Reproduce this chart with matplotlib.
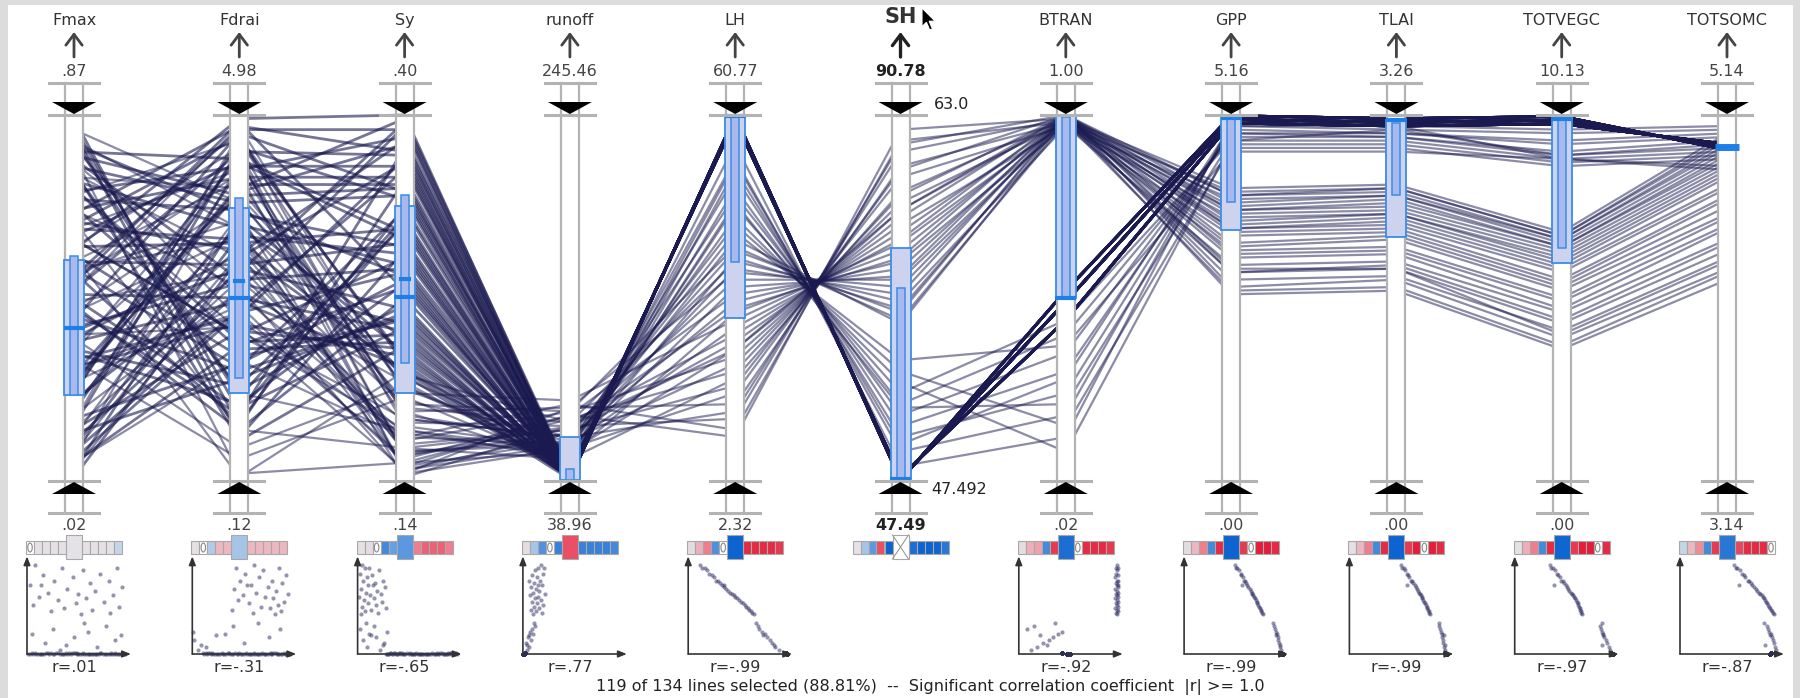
import numpy as np
import matplotlib.pyplot as plt
from matplotlib.patches import Rectangle, Polygon, Ellipse
from matplotlib.colors import LinearSegmentedColormap, Normalize

plt.rcParams['font.family'] = ['DejaVu Sans']

names = ["Fmax", "Fdrai", "Sy", "runoff", "LH", "SH", "BTRAN", "GPP", "TLAI", "TOTVEGC", "TOTSOMC"]
axis_max = [0.87, 4.98, 0.40, 245.46, 60.77, 90.78, 1.00, 5.16, 3.26, 10.13, 5.14]
axis_min = [0.02, 0.12, 0.14, 38.96, 2.32, 47.49, 0.02, 0.00, 0.00, 0.00, 3.14]
sh_brush = ("63.0", "47.492")
r_values = [0.01, -0.31, -0.65, 0.77, -0.99, None, -0.92, -0.99, -0.99, -0.97, -0.87]
footer = "119 of 134 lines selected (88.81%)  --  Significant correlation coefficient  |r| >= 1.0"

# line values, percent of each axis (0 = bottom, 100 = top)
# Fmax, Fdrai, Sy, runoff, LH, SH, BTRAN, GPP, TLAI, TOTVEGC, TOTSOMC
varying_hi = [
    [8, 62, 4, 18, 12, 96, 99, 51, 52, 36, 55],
    [91, 44, 12, 21, 14, 93, 98, 52, 53, 37, 57],
    [35, 88, 7, 15, 17, 92, 100, 53, 55, 39, 58],
    [57, 71, 22, 12, 19, 90, 99, 55, 56, 41, 61],
    [74, 53, 2, 20, 21, 86, 98, 57, 58, 43, 63],
    [16, 95, 15, 9, 24, 85, 100, 57, 59, 44, 65],
    [46, 67, 9, 14, 26, 83, 97, 59, 60, 46, 66],
    [83, 80, 26, 6, 28, 79, 99, 61, 62, 47, 69],
    [27, 48, 5, 17, 30, 78, 100, 62, 63, 49, 70],
    [64, 91, 18, 11, 32, 76, 98, 63, 64, 50, 72],
    [3, 59, 11, 19, 34, 74, 99, 64, 66, 52, 73],
    [96, 76, 28, 8, 36, 72, 100, 65, 67, 53, 75],
    [40, 42, 3, 13, 38, 70, 97, 67, 68, 54, 77],
    [69, 85, 20, 16, 40, 68, 99, 68, 69, 55, 78],
    [21, 64, 8, 10, 42, 66, 100, 69, 70, 57, 80],
    [52, 97, 24, 22, 44, 65, 98, 69, 71, 58, 81],
    [87, 51, 13, 7, 46, 63, 99, 70, 72, 59, 83],
    [12, 73, 1, 15, 47, 61, 100, 71, 73, 60, 84],
    [60, 82, 17, 12, 49, 60, 97, 72, 73, 61, 85],
    [31, 46, 6, 18, 51, 58, 99, 73, 74, 62, 86],
    [78, 93, 25, 9, 53, 56, 100, 74, 75, 63, 87],
    [49, 57, 10, 14, 55, 55, 98, 74, 76, 64, 88],
    [6, 87, 19, 20, 57, 53, 99, 75, 77, 64, 89],
    [93, 69, 4, 11, 58, 51, 100, 76, 78, 65, 90],
    [37, 78, 29, 16, 60, 49, 97, 77, 78, 66, 91],
    [66, 40, 14, 8, 61, 47, 99, 78, 79, 66, 92],
    [24, 90, 7, 13, 63, 46, 100, 78, 80, 67, 93],
    [84, 61, 21, 19, 64, 44, 98, 79, 80, 67, 94],
    [55, 84, 3, 10, 66, 43, 99, 80, 81, 68, 95],
    [14, 55, 16, 15, 36, 74, 100, 58, 58, 40, 60],
]
varying_lo = [
    [33, 6, 23, 4, 92, 4, 12, 98, 97, 96, 97],
    [71, 14, 9, 6, 88, 8, 18, 97, 96, 95, 96],
    [18, 52, 27, 3, 85, 12, 24, 96, 95, 93, 95],
    [89, 2, 5, 8, 83, 15, 30, 95, 95, 92, 94],
    [47, 77, 19, 5, 80, 18, 35, 95, 94, 90, 93],
    [5, 33, 12, 10, 78, 21, 40, 94, 94, 89, 92],
    [62, 1, 30, 7, 75, 24, 44, 93, 93, 88, 90],
    [26, 89, 2, 9, 72, 27, 8, 92, 92, 87, 89],
    [80, 41, 17, 12, 70, 30, 15, 91, 91, 86, 88],
    [39, 9, 26, 4, 87, 10, 28, 97, 97, 88, 86],
    [58, 66, 8, 11, 68, 33, 37, 90, 90, 88, 85],
    [95, 24, 14, 6, 76, 20, 21, 93, 96, 89, 91],
]
# the dense bundle: spread over the three parameters, nearly identical outputs
heavy_fmax = [3, 47, 88, 15, 62, 29, 95, 71, 8, 54, 36, 82, 19, 66, 41, 99, 24, 58, 77, 11,
              50, 90, 33, 69, 5, 44, 85, 27, 60, 13, 74, 38, 93, 21, 56, 80, 1, 48, 67, 31,
              86, 17, 63, 42, 97, 9, 52, 75, 26, 84, 39, 6, 70, 57, 92, 22, 45, 79, 14, 64,
              35, 89, 51, 73]
heavy_fdrai = [72, 18, 55, 91, 34, 80, 12, 63, 47, 98, 26, 69, 85, 40, 58, 15, 93, 31, 74, 52,
               20, 88, 45, 66, 37, 95, 11, 79, 59, 28, 83, 49, 23, 70, 96, 38, 61, 14, 87, 43,
               76, 32, 99, 54, 19, 67, 90, 36, 81, 25, 62, 46, 94, 16, 73, 57, 30, 86, 41, 65,
               21, 78, 50, 97]
heavy_sy = [35, 91, 58, 77, 44, 99, 63, 30, 85, 52, 70, 39, 94, 61, 47, 82, 33, 74, 56, 97,
            42, 68, 88, 29, 53, 79, 37, 92, 65, 46, 83, 31, 72, 59, 96, 40, 87, 50, 66, 34,
            78, 55, 100, 43, 71, 62, 89, 38, 81, 48, 93, 57, 32, 75, 64, 98, 45, 86, 36, 69,
            54, 80, 41, 90]
heavy_kind = [0, 1, 2, 0, 0, 1, 2, 0, 1, 0, 2, 0, 1, 0, 0, 2, 1, 0, 2, 0,
              1, 0, 0, 2, 1, 0, 1, 2, 0, 0, 1, 0, 2, 1, 0, 0, 2, 1, 0, 1,
              0, 2, 0, 1, 0, 0, 2, 1, 0, 2, 1, 0, 0, 1, 2, 0, 1, 0, 2, 0,
              0, 1, 2, 0]
# runoff, LH, SH, BTRAN, GPP, TLAI, TOTVEGC, TOTSOMC
heavy_tail = [
    [1.0, 99.5, 0.5, 49, 98.8, 98.0, 98.6, 91.2],
    [2.0, 98.6, 1.2, 44, 97.8, 97.0, 97.6, 92.0],
    [0.5, 99.8, 0.2, 52, 99.8, 99.0, 99.6, 90.5],
]

# boxes drawn on every axis (percent of axis)
box_lo = [23.5, 24.0, 24.0, 0.3, 44.5, 0.3, 50.0, 68.6, 66.7, 59.6, None]
box_hi = [60.4, 74.6, 75.1, 12.0, 100, 63.7, 100, 100, 98.6, 99.5, None]
inner_lo = [23.5, 28.1, 32.2, 0.3, 59.8, 0.8, 50.0, 76.2, 78.1, 63.7, None]
inner_hi = [61.5, 77.3, 78.1, 3.3, 99.5, 52.7, 99.5, 99.2, 97.8, 98.6, None]
median = [41.8, 50.0, 50.3, None, 99.6, 0.6, 50.0, 99.3, 98.6, 99.0, 91.2]
mean_mark = [None, 54.6, 55.2, None, None, None, None, None, None, None, None]

# correlation strip under each axis (None = the axis itself)
corr_rows = [
    [None, .02, .02, .02, .02, .01, .02, .02, .02, .02, -.15],
    [.03, None, -.25, .3, .3, -.31, .3, .3, .3, .3, .3],
    [.03, .05, None, -.75, -.6, -.65, .6, .7, .7, .7, .6],
    [.05, -.3, -.7, None, -.8, .77, -.8, -.8, -.8, -.8, -.75],
    [.05, .35, .6, -.7, None, -.99, .9, .9, .9, .9, .85],
    [.01, -.31, -.65, .77, -.99, None, -.92, -.99, -.99, -.97, -.87],
    [.05, .35, .45, -.75, .85, -.92, None, .9, .9, .9, .85],
    [.05, .3, .6, -.75, .9, -.99, .85, None, .95, .95, .9],
    [.03, .3, .6, -.75, .9, -.99, .85, .95, None, .95, .9],
    [.03, .35, .6, -.75, .9, -.97, .85, .95, .95, None, .9],
    [-.15, .3, .55, -.75, .85, -.87, .8, .9, .9, .9, None],
]

# ---- layout (pixels of the 1800x698 picture) ----
W, H = 1800, 698
AX0, STEP = 74, 165.3
TOP, BOT = 115, 481


def xi(px):
    return (px - AX0) / STEP


def yn(py):
    return (BOT - py) / (BOT - TOP)


def dx(p):
    return p / STEP


def fmt(v):
    s = f"{v:.2f}"
    return s[1:] if s.startswith("0.") else s


def rfmt(r):
    return "r=" + ("-" if r < 0 else "") + f"{abs(r):.2f}"[1:]


n_var = len(varying_hi) + len(varying_lo)
rows = varying_hi + varying_lo
rows += [[f, d, s] + heavy_tail[k] for f, d, s, k in zip(heavy_fmax, heavy_fdrai, heavy_sy, heavy_kind)]
data = np.array(rows, dtype=float) / 100.0

fig = plt.figure(figsize=(18, 6.98), dpi=100)
ax = fig.add_axes([0, 0, 1, 1])
ax.set_xlim(xi(0), xi(W))
ax.set_ylim(yn(H), yn(0))
ax.axis('off')

# gray window frame
for rect in [(0, 1 - 5 / H, 1, 5 / H), (0, 0, 8 / W, 1), (1 - 7 / W, 0, 7 / W, 1)]:
    fig.patches.append(Rectangle(rect[:2], rect[2], rect[3], transform=fig.transFigure,
                                 facecolor='#dcdcdc', edgecolor='none', zorder=0))

n_axes = len(names)
xs = np.arange(n_axes)
for k, row in enumerate(data):
    heavy = k >= n_var
    ax.plot(xs, row, color='#1a1a50', alpha=0.6 if heavy else 0.5, lw=2.0 if heavy else 1.6,
            zorder=2, solid_capstyle='butt')

gray = '#b3b3b3'
blue_edge = '#3a8de8'
hw, cap, tri = dx(9), dx(25), dx(22)
for i in range(n_axes):
    ax.add_patch(Rectangle((i - hw, 0), 2 * hw, 1, facecolor='white', edgecolor='none', zorder=3))
    for s in (-1, 1):
        ax.plot([i + s * hw] * 2, [yn(83), yn(513)], color=gray, lw=1.6, zorder=4)
    for py in (83, 115, 481, 513):
        ax.plot([i - cap, i + cap], [yn(py)] * 2, color=gray, lw=2.2, zorder=6)
    ax.add_patch(Polygon([(i - tri, yn(102)), (i + tri, yn(102)), (i, yn(114))],
                         closed=True, facecolor='black', edgecolor='none', zorder=7))
    ax.add_patch(Polygon([(i - tri, yn(494)), (i + tri, yn(494)), (i, yn(482))],
                         closed=True, facecolor='black', edgecolor='none', zorder=7))

    # boxes
    if box_lo[i] is not None:
        lo, hi = box_lo[i] / 100, box_hi[i] / 100
        ax.add_patch(Rectangle((i - dx(10), lo), dx(20), hi - lo, facecolor='#cdd3ef',
                               edgecolor=blue_edge, lw=1.3, zorder=5))
        lo, hi = inner_lo[i] / 100, inner_hi[i] / 100
        ax.add_patch(Rectangle((i - dx(4), lo), dx(8), hi - lo, facecolor='#a9b9ee',
                               edgecolor=blue_edge, lw=1.1, zorder=5))
    if mean_mark[i] is not None:
        ax.plot([i - dx(4), i + dx(4)], [mean_mark[i] / 100] * 2, color='#1f7fe8', lw=3, zorder=5)
    if median[i] is not None:
        w = 12 if i == n_axes - 1 else 10.5
        ax.plot([i - dx(w), i + dx(w)], [median[i] / 100] * 2, color='#1f7fe8',
                lw=5 if i == n_axes - 1 else 3, zorder=5, solid_capstyle='butt')

    # titles, arrows, range labels
    sel = names[i] == "SH"
    ax.text(i, yn(17 if sel else 20), names[i], ha='center', va='center',
            fontsize=15 if sel else 11.5, fontweight='bold' if sel else 'normal', color='#333333')
    ax.annotate('', xy=(i, yn(32)), xytext=(i, yn(57)),
                arrowprops=dict(arrowstyle='->,head_length=0.6,head_width=0.45', lw=2.4 if sel else 2.0,
                                color='#222222' if sel else '#444444', shrinkA=0, shrinkB=0,
                                mutation_scale=13))
    ax.text(i, yn(71), fmt(axis_max[i]), ha='center', va='center', fontsize=11.5,
            color='#222222' if sel else '#444444', fontweight='bold' if sel else 'normal')
    ax.text(i, yn(525), fmt(axis_min[i]), ha='center', va='center', fontsize=11.5,
            color='#222222' if sel else '#444444', fontweight='bold' if sel else 'normal')

sh = names.index("SH")
ax.text(sh + dx(33), yn(104), sh_brush[0], ha='left', va='center', fontsize=11.5, color='#222222')
ax.text(sh + dx(31), yn(490), sh_brush[1], ha='left', va='center', fontsize=11.5, color='#222222')

# mouse pointer next to the selected axis
cur = [(0, 0), (0, 17), (4, 13), (7, 20), (9.5, 19), (6.5, 12), (12, 12)]
ax.add_patch(Polygon([(xi(922 + 1.1 * u), yn(8 + 1.1 * v)) for u, v in cur], closed=True,
                     facecolor='black', edgecolor='white', lw=0.8, zorder=8))

# correlation strips
cmap = LinearSegmentedColormap.from_list('corr', ['#0b62d0', '#7fb0e6', '#e4e4e8', '#f19aa6', '#e2102f'])
norm = Normalize(-1, 1)
widths = [8] * 5 + [16] + [8] * 5
for i in range(n_axes):
    cx = AX0 + STEP * i
    left = cx - 48
    for j, v in enumerate(corr_rows[i]):
        w = widths[j]
        big = j == 5
        top, bot = (535, 559) if big else (541, 554)
        face = 'white' if v is None else cmap(norm(v))
        ax.add_patch(Rectangle((xi(left), yn(bot)), dx(w), yn(top) - yn(bot), facecolor=face,
                               edgecolor='#a8a8a8', lw=0.8, zorder=5 if big else 4))
        if v is None:
            ccx, ccy = xi(left + w / 2), yn((top + bot) / 2)
            if big:
                ax.plot([xi(left), xi(left + w)], [yn(top), yn(bot)], color='#999999', lw=0.8, zorder=6)
                ax.plot([xi(left), xi(left + w)], [yn(bot), yn(top)], color='#999999', lw=0.8, zorder=6)
            else:
                ax.add_patch(Ellipse((ccx, ccy), dx(4.5), 9 / (BOT - TOP), facecolor='none',
                                     edgecolor='#888888', lw=0.8, zorder=6))
        left += w

# scatter plots of each axis against SH
for i in range(n_axes):
    cx = AX0 + STEP * i
    if i != sh:
        sa = fig.add_axes([(cx - 47) / W, (H - 654) / H, 99 / W, 93 / H])
        sa.scatter(data[:, i], data[:, sh], s=9, color='#2b2b63', alpha=0.5, lw=0, clip_on=False)
        sa.set_xlim(0, 1)
        sa.set_ylim(0, 1)
        sa.axis('off')
        arrow = dict(arrowstyle='-|>,head_length=0.5,head_width=0.2', lw=1.2, color='#333333',
                     shrinkA=0, shrinkB=0, mutation_scale=10)
        sa.annotate('', xy=(0, 1.05), xytext=(0, 0), xycoords='axes fraction', arrowprops=arrow)
        sa.annotate('', xy=(1.05, 0), xytext=(0, 0), xycoords='axes fraction', arrowprops=arrow)
        ax.text(i, yn(668), rfmt(r_values[i]), ha='center', va='center', fontsize=11.5, color='#333333')

ax.text(xi(930), yn(687), footer, ha='center', va='center', fontsize=11.5, color='#222222')

fig.savefig('out.png', dpi=100)
